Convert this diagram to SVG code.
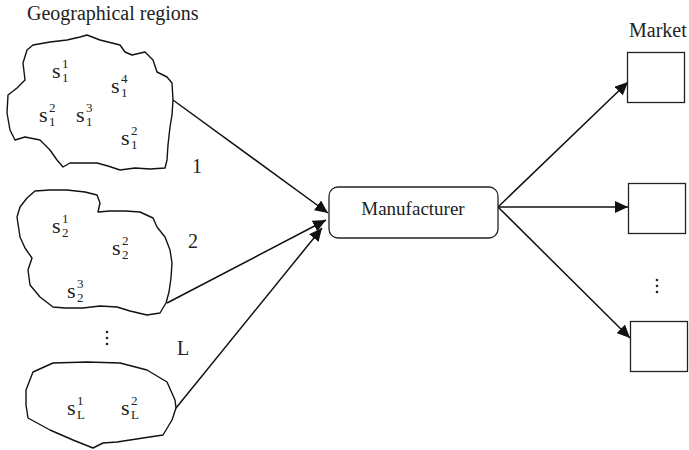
<svg xmlns="http://www.w3.org/2000/svg" width="689" height="450" viewBox="0 0 689 450">
  <defs>
    <marker id="arrow" markerUnits="userSpaceOnUse" markerWidth="14" markerHeight="12" refX="13" refY="6" orient="auto">
      <path d="M0,0 L13,6 L0,12 Z" fill="#111"/>
    </marker>
    <style>
      .region { fill: none; stroke: #111; stroke-width: 1.4; stroke-linejoin: round; }
      .box { fill: #fff; stroke: #222; stroke-width: 1.3; }
      .edge { fill: none; stroke: #111; stroke-width: 1.5; marker-end: url(#arrow); }
      .title { font-family: "Liberation Serif", "Times New Roman", serif; font-size: 20px; fill: #222; }
      .lbl { font-family: "Liberation Serif", "Times New Roman", serif; font-size: 20px; fill: #222; text-anchor: middle; }
      .s { font-family: "Liberation Serif", "Times New Roman", serif; font-size: 22px; fill: #222; }
      .idx { font-size: 13px; }
      .dot { fill: #222; }
    </style>
  </defs>

  <rect width="689" height="450" fill="#fff"/>

  <text class="title" x="27" y="20">Geographical regions</text>
  <text class="title" x="629" y="37">Market</text>

  <!-- connectors -->
  <g id="connectors">
    <path class="edge" d="M173,100 L328,213"/>
    <path class="edge" d="M167,303 L326,220"/>
    <path class="edge" d="M176,408 L322,228"/>
    <path class="edge" d="M498,207 L628,82"/>
    <path class="edge" d="M498,207 L628,207"/>
    <path class="edge" d="M498,207 L630,338"/>
  </g>

  <!-- region 1 -->
  <g id="region-1">
    <path class="region" d="M27,50 L33,45 L50,42 L67,40 L80,37 L87,35 L100,40 L120,45 L125,52 L132,55 L145,52 L153,60 L157,72 L167,77 L172,83 L173,100 L172,115 L170,127 L168,145 L167,160 L165,168 L150,169 L135,168 L120,170 L108,166 L97,163 L70,163 L63,167 L57,160 L50,150 L40,140 L25,137 L15,140 L10,130 L7,113 L8,95 L17,88 L25,80 L23,63 Z"/>
    <text class="s" x="52" y="78">s<tspan class="idx" x="62" dy="-10">1</tspan><tspan class="idx" x="62" dy="14">1</tspan></text>
    <text class="s" x="111" y="93">s<tspan class="idx" x="121" dy="-10">4</tspan><tspan class="idx" x="121" dy="14">1</tspan></text>
    <text class="s" x="39" y="122">s<tspan class="idx" x="49" dy="-10">2</tspan><tspan class="idx" x="49" dy="14">1</tspan></text>
    <text class="s" x="76" y="122">s<tspan class="idx" x="86" dy="-10">3</tspan><tspan class="idx" x="86" dy="14">1</tspan></text>
    <text class="s" x="121" y="145">s<tspan class="idx" x="131" dy="-10">2</tspan><tspan class="idx" x="131" dy="14">1</tspan></text>
    <text class="lbl" x="197" y="173">1</text>
  </g>

  <!-- region 2 -->
  <g id="region-2">
    <path class="region" d="M35,191 L50,190 L67,190 L85,192 L97,195 L100,203 L98,212 L110,211 L125,211 L140,212 L153,218 L157,227 L165,237 L170,250 L172,263 L171,278 L169,292 L166,303 L160,313 L147,315 L130,311 L117,307 L100,306 L83,308 L65,308 L53,307 L40,297 L30,285 L28,270 L32,258 L25,248 L20,237 L17,217 L20,207 L27,198 Z"/>
    <text class="s" x="52" y="233">s<tspan class="idx" x="62" dy="-10">1</tspan><tspan class="idx" x="62" dy="14">2</tspan></text>
    <text class="s" x="112" y="255">s<tspan class="idx" x="122" dy="-10">2</tspan><tspan class="idx" x="122" dy="14">2</tspan></text>
    <text class="s" x="67" y="298">s<tspan class="idx" x="77" dy="-10">3</tspan><tspan class="idx" x="77" dy="14">2</tspan></text>
    <text class="lbl" x="193" y="248">2</text>
  </g>

  <!-- vertical ellipsis between regions -->
  <g id="region-gap">
    <circle class="dot" cx="107" cy="332" r="1.3"/>
    <circle class="dot" cx="107" cy="338" r="1.3"/>
    <circle class="dot" cx="107" cy="344" r="1.3"/>
  </g>

  <!-- region L -->
  <g id="region-L">
    <path class="region" d="M33,372 L53,363 L87,362 L120,363 L147,370 L167,382 L175,400 L176,408 L172,420 L166,430 L163,435 L143,438 L117,442 L103,443 L93,448 L73,440 L50,430 L28,418 L26,405 L26,390 Z"/>
    <text class="s" x="67" y="415">s<tspan class="idx" x="77" dy="-10">1</tspan><tspan class="idx" x="77" dy="14">L</tspan></text>
    <text class="s" x="121" y="415">s<tspan class="idx" x="131" dy="-10">2</tspan><tspan class="idx" x="131" dy="14">L</tspan></text>
    <text class="lbl" x="183" y="355">L</text>
  </g>

  <!-- manufacturer -->
  <g id="manufacturer">
    <rect class="box" x="329" y="187" width="169" height="51" rx="9"/>
    <text class="lbl" x="413" y="215" style="font-size:19px">Manufacturer</text>
  </g>

  <!-- markets -->
  <g id="market-1">
    <rect class="box" x="627.5" y="52.5" width="57" height="50"/>
  </g>
  <g id="market-2">
    <rect class="box" x="628.5" y="183.5" width="57" height="50"/>
  </g>
  <g id="market-gap">
    <circle class="dot" cx="657" cy="280" r="1.3"/>
    <circle class="dot" cx="657" cy="286" r="1.3"/>
    <circle class="dot" cx="657" cy="292" r="1.3"/>
  </g>
  <g id="market-3">
    <rect class="box" x="630.5" y="321.5" width="57" height="50"/>
  </g>
</svg>
